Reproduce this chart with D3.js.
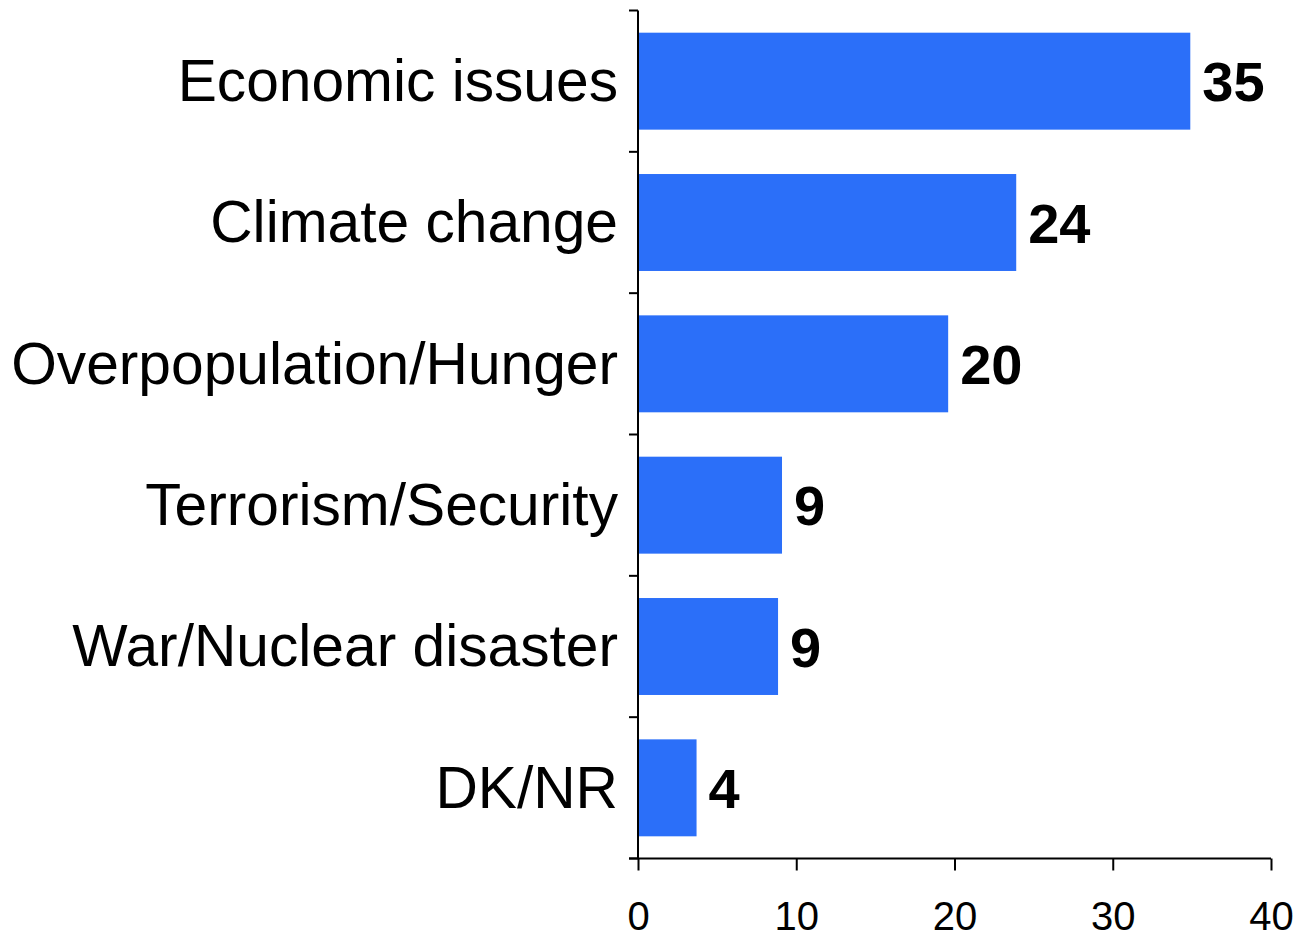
<!DOCTYPE html>
<html>
<head>
<meta charset="utf-8">
<script src="https://cdn.jsdelivr.net/npm/d3@7"></script>
<style>
  html, body { margin: 0; padding: 0; background: #fff; }
  svg { display: block; font-family: "Liberation Sans", Arial, sans-serif; }
</style>
</head>
<body>
<svg id="chart" width="1295" height="934"></svg>
<script>
const categories = ["Economic issues", "Climate change", "Overpopulation/Hunger", "Terrorism/Security", "War/Nuclear disaster", "DK/NR"];
const values = [34.9, 23.9, 19.6, 9.1, 8.85, 3.7];
const valueLabels = ["35", "24", "20", "9", "9", "4"];
const xTicks = [0, 10, 20, 30, 40];

const svg = d3.select("#chart");
const plotLeft = 638, plotRight = 1271, plotTop = 10.5, plotBottom = 858.5;

const x = d3.scaleLinear().domain([0, 40]).range([plotLeft, plotRight]);
const y = d3.scaleBand().domain(categories).range([plotTop, plotBottom])
  .paddingInner(0.314).paddingOuter(0.157);
const yEdge = d3.scaleBand().domain(categories).range([plotTop, plotBottom]).padding(0);

const data = categories.map((c, i) => ({ c, v: values[i], l: valueLabels[i] }));

// bars
svg.append("g").selectAll("rect").data(data).join("rect")
  .attr("x", x(0))
  .attr("y", d => y(d.c))
  .attr("width", d => x(d.v) - x(0))
  .attr("height", y.bandwidth())
  .attr("fill", "#2b6ff9");

// value labels
svg.append("g").selectAll("text").data(data).join("text")
  .attr("x", d => x(d.v) + 12)
  .attr("y", d => y(d.c) + y.bandwidth() / 2)
  .attr("dy", "0.36em")
  .attr("font-size", 56)
  .attr("font-weight", "bold")
  .attr("fill", "#000")
  .text(d => d.l);

// category labels
svg.append("g").selectAll("text").data(data).join("text")
  .attr("x", plotLeft - 20)
  .attr("y", d => y(d.c) + y.bandwidth() / 2)
  .attr("dy", "0.34em")
  .attr("text-anchor", "end")
  .attr("font-size", 58.7)
  .attr("fill", "#000")
  .text(d => d.c);

// y axis line and ticks (at band boundaries)
const edges = categories.map(c => yEdge(c)).concat([plotBottom]);
svg.append("line").attr("x1", plotLeft).attr("x2", plotLeft).attr("y1", plotTop).attr("y2", plotBottom)
  .attr("stroke", "#000").attr("stroke-width", 2);
svg.append("g").selectAll("line").data(edges).join("line")
  .attr("x1", plotLeft - 9).attr("x2", plotLeft)
  .attr("y1", d => d).attr("y2", d => d)
  .attr("stroke", "#000").attr("stroke-width", 2);

// x axis
const xAxis = svg.append("g").attr("transform", `translate(0,${plotBottom})`)
  .call(d3.axisBottom(x).tickValues(xTicks).tickSize(12).tickSizeOuter(0).tickPadding(31));
xAxis.select(".domain").remove();
xAxis.selectAll(".tick line").attr("stroke", "#000").attr("stroke-width", 2);
xAxis.selectAll(".tick text").attr("font-size", 40).attr("fill", "#000")
  .attr("font-family", "Liberation Sans, Arial, sans-serif");
svg.append("line").attr("x1", plotLeft - 9).attr("x2", plotRight).attr("y1", plotBottom).attr("y2", plotBottom)
  .attr("stroke", "#000").attr("stroke-width", 2);
</script>
</body>
</html>
